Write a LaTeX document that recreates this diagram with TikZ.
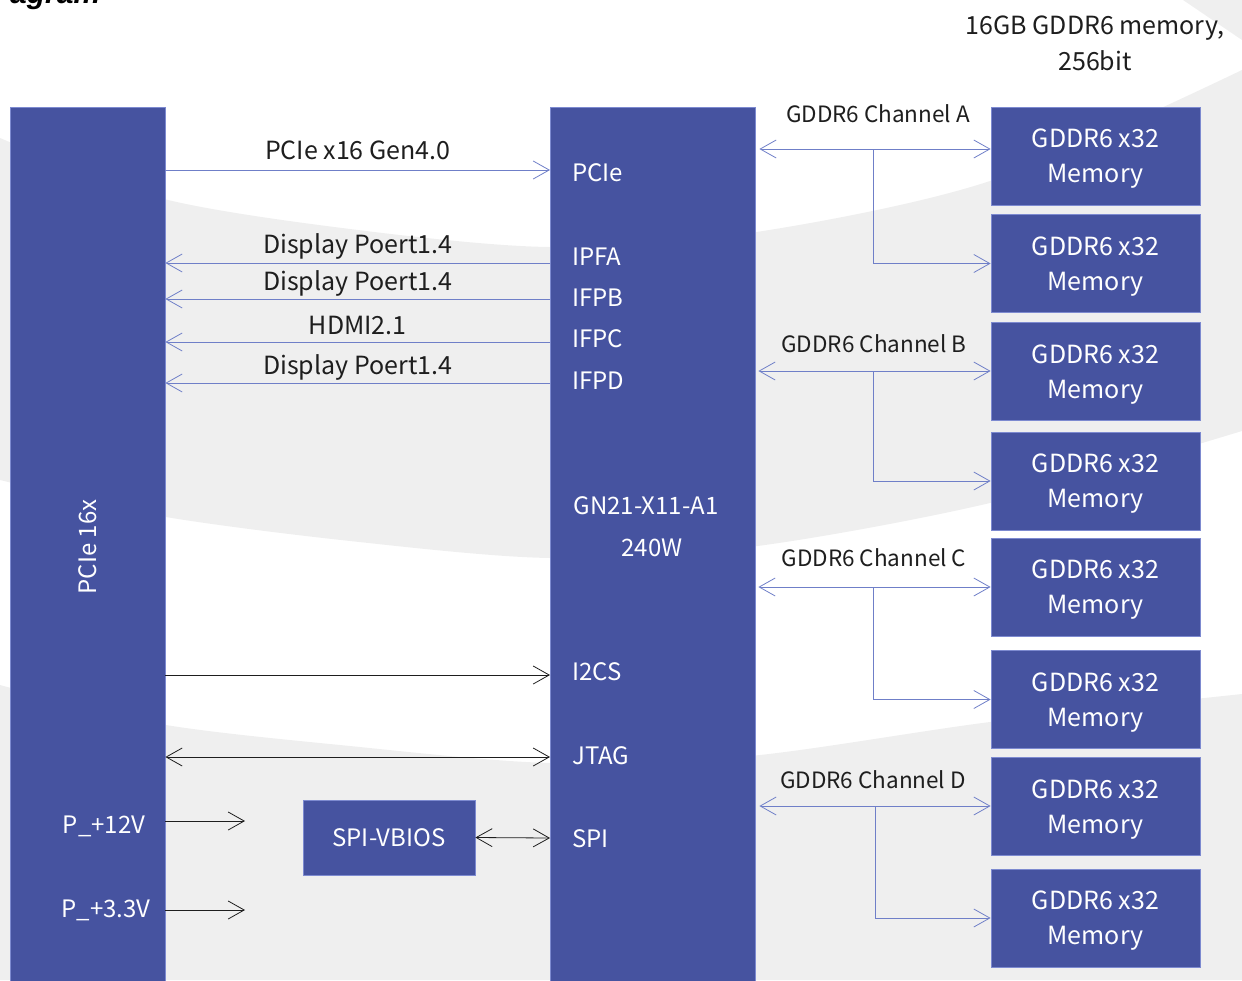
\documentclass[tikz,border=0pt]{standalone}
\usepackage{fontspec}
\setmainfont{Noto Sans CJK SC}
\newfontfamily\ttlfont{Liberation Sans}
\usetikzlibrary{arrows.meta}

\definecolor{boxblue}{HTML}{4653A0}
\definecolor{edgeblue}{HTML}{7D8AD0}
\definecolor{linkblue}{HTML}{6F7FC8}
\definecolor{bggray}{HTML}{EFEFEF}
\definecolor{ink}{HTML}{1E1E1E}

\tikzset{
  blk/.style={fill=boxblue,draw=edgeblue,line width=0.8pt,inner sep=0pt,text=white},
  port/.style={text=white,anchor=west,inner sep=0pt,text depth=0pt,font=\fontsize{24}{28}\selectfont},
  lbl/.style={text=ink,inner sep=0pt,text depth=0pt,font=\fontsize{25}{28}\selectfont},
  chan/.style={text=ink,inner sep=0pt,text depth=0pt,font=\fontsize{22.5}{26}\selectfont},
  >={Straight Barb[length=16pt,width=18pt]}
}

\begin{document}
\begin{tikzpicture}[x=1pt,y=-1pt]
  \useasboundingbox (0,0) rectangle (1242,980);

  % background swooshes
  \begin{scope}
    \clip (0,0) rectangle (1242,980);
    \fill[bggray] plot[smooth] coordinates {(0,138) (160,198) (350,229) (550,247) (750,233) (990,181) (1242,70)}
      -- plot[smooth] coordinates {(1242,431) (990,503) (750,547) (550,558) (350,541) (160,516) (0,480)} -- cycle;
    \fill[bggray] plot[smooth] coordinates {(0,685) (160,724) (350,746) (550,763) (750,756) (990,722) (1242,694)}
      -- (1242,980) -- (0,980) -- cycle;
    \fill[bggray] (1183,0) -- (1242,0) -- (1242,40) -- cycle;
  \end{scope}

  \node[anchor=base west,inner sep=0pt,font=\ttlfont\bfseries\itshape\fontsize{30}{30}\selectfont] (ttl) at (10,3) {agram};

  \begin{scope}[every node/.style={blk}]
    \node[minimum width=155pt,minimum height=880pt] (pcie) at (87.5,547) {};
    \node[minimum width=205pt,minimum height=880pt] (gpu)  at (652.5,547) {};
    \node[minimum width=172pt,minimum height=75pt,text depth=0pt,font=\fontsize{24}{28}\selectfont] (vbios) at (389,837.5) {SPI-VBIOS};
  \end{scope}

  \begin{scope}[every node/.style={blk,minimum width=209pt,minimum height=98pt,align=center,text depth=0pt,font=\fontsize{25}{35}\selectfont}]
    \node (m1) at (1095.5,156)   {GDDR6 x32\\Memory};
    \node (m2) at (1095.5,263.5) {GDDR6 x32\\Memory};
    \node (m3) at (1095.5,371.5) {GDDR6 x32\\Memory};
    \node (m4) at (1095.5,481)   {GDDR6 x32\\Memory};
    \node (m5) at (1095.5,587)   {GDDR6 x32\\Memory};
    \node (m6) at (1095.5,699.5) {GDDR6 x32\\Memory};
    \node (m7) at (1095.5,806.5) {GDDR6 x32\\Memory};
    \node (m8) at (1095.5,918)   {GDDR6 x32\\Memory};
  \end{scope}

  \node[lbl,align=center,font=\fontsize{25}{36}\selectfont] (memnote) at (1095,43) {16GB GDDR6 memory,\\256bit};

  % texts on the boards
  \node[port,anchor=center,rotate=90] (pcielbl) at (88,547) {PCIe 16x};
  \node[port,anchor=center] (p12) at (104,825) {P\_+12V};
  \node[port,anchor=center] (p33) at (106,909) {P\_+3.3V};
  \node[port,anchor=center] (chip) at (646,506) {GN21-X11-A1};
  \node[port,anchor=center] (watt) at (652,548) {240W};
  \node[port] (ppcie) at (572,173) {PCIe};
  \node[port] (pifa)  at (572,257) {IPFA};
  \node[port] (pifb)  at (572,298) {IFPB};
  \node[port] (pifc)  at (572,339) {IFPC};
  \node[port] (pifd)  at (572,381) {IFPD};
  \node[port] (pi2c)  at (572,672) {I2CS};
  \node[port] (pjtag) at (572,756) {JTAG};
  \node[port] (pspi)  at (572,839) {SPI};

  % where the lines meet the chip
  \coordinate (gpcie) at (550,170);
  \coordinate (gifa)  at (550,263);
  \coordinate (gifb)  at (550,299);
  \coordinate (gifc)  at (550,342);
  \coordinate (gifd)  at (550,383);
  \coordinate (gi2c)  at (550,675);
  \coordinate (gjtag) at (550,757);
  \coordinate (gspi)  at (550,838);
  \coordinate (v12)   at (245,821);
  \coordinate (v33)   at (245,910);

  \begin{scope}[every edge/.style={draw,line width=0.8pt,linkblue}]
    \path (pcie.east |- gpcie) edge[->] node[lbl,above=20pt,anchor=center] {PCIe x16 Gen4.0} (gpcie);
    \path (gifa) edge[->] node[lbl,above=19pt,anchor=center] {Display Poert1.4} (pcie.east |- gifa);
    \path (gifb) edge[->] node[lbl,above=18pt,anchor=center] {Display Poert1.4} (pcie.east |- gifb);
    \path (gifc) edge[->] node[lbl,above=17pt,anchor=center] {HDMI2.1} (pcie.east |- gifc);
    \path (gifd) edge[->] node[lbl,above=18pt,anchor=center] {Display Poert1.4} (pcie.east |- gifd);
  \end{scope}

  \begin{scope}[every edge/.style={draw,line width=0.8pt,ink}]
    \path (pcie.east |- gi2c) edge[->] (gi2c);
    \path (pcie.east |- gjtag) edge[<->] (gjtag);
    \path (pcie.east |- v12) edge[->] (v12);
    \path (pcie.east |- v33) edge[->] (v33);
    \path (vbios.east) edge[<->] (gspi);
  \end{scope}

  % memory channels
  \coordinate (chA) at (873,149);
  \coordinate (chB) at (873,371);
  \coordinate (chC) at (873,587);
  \coordinate (chD) at (875,806);
  \node[chan] (lA) at (878,114) {GDDR6 Channel A};
  \node[chan] (lB) at (874,344) {GDDR6 Channel B};
  \node[chan] (lC) at (874,558) {GDDR6 Channel C};
  \node[chan] (lD) at (873,780) {GDDR6 Channel D};

  \begin{scope}[line width=0.8pt,linkblue]
    \draw[<->,shorten <=4pt] (gpu.east |- chA) -- (m1.west |- chA);
    \draw[->] (chA) |- (m2.west);
    \draw[<->,shorten <=3pt] (gpu.east |- chB) -- (m3.west |- chB);
    \draw[->] (chB) |- (m4.west);
    \draw[<->,shorten <=3pt] (gpu.east |- chC) -- (m5.west |- chC);
    \draw[->] (chC) |- (m6.west);
    \draw[<->,shorten <=4pt] (gpu.east |- chD) -- (m7.west |- chD);
    \draw[->] (chD) |- (m8.west);
  \end{scope}

\end{tikzpicture}
\end{document}
